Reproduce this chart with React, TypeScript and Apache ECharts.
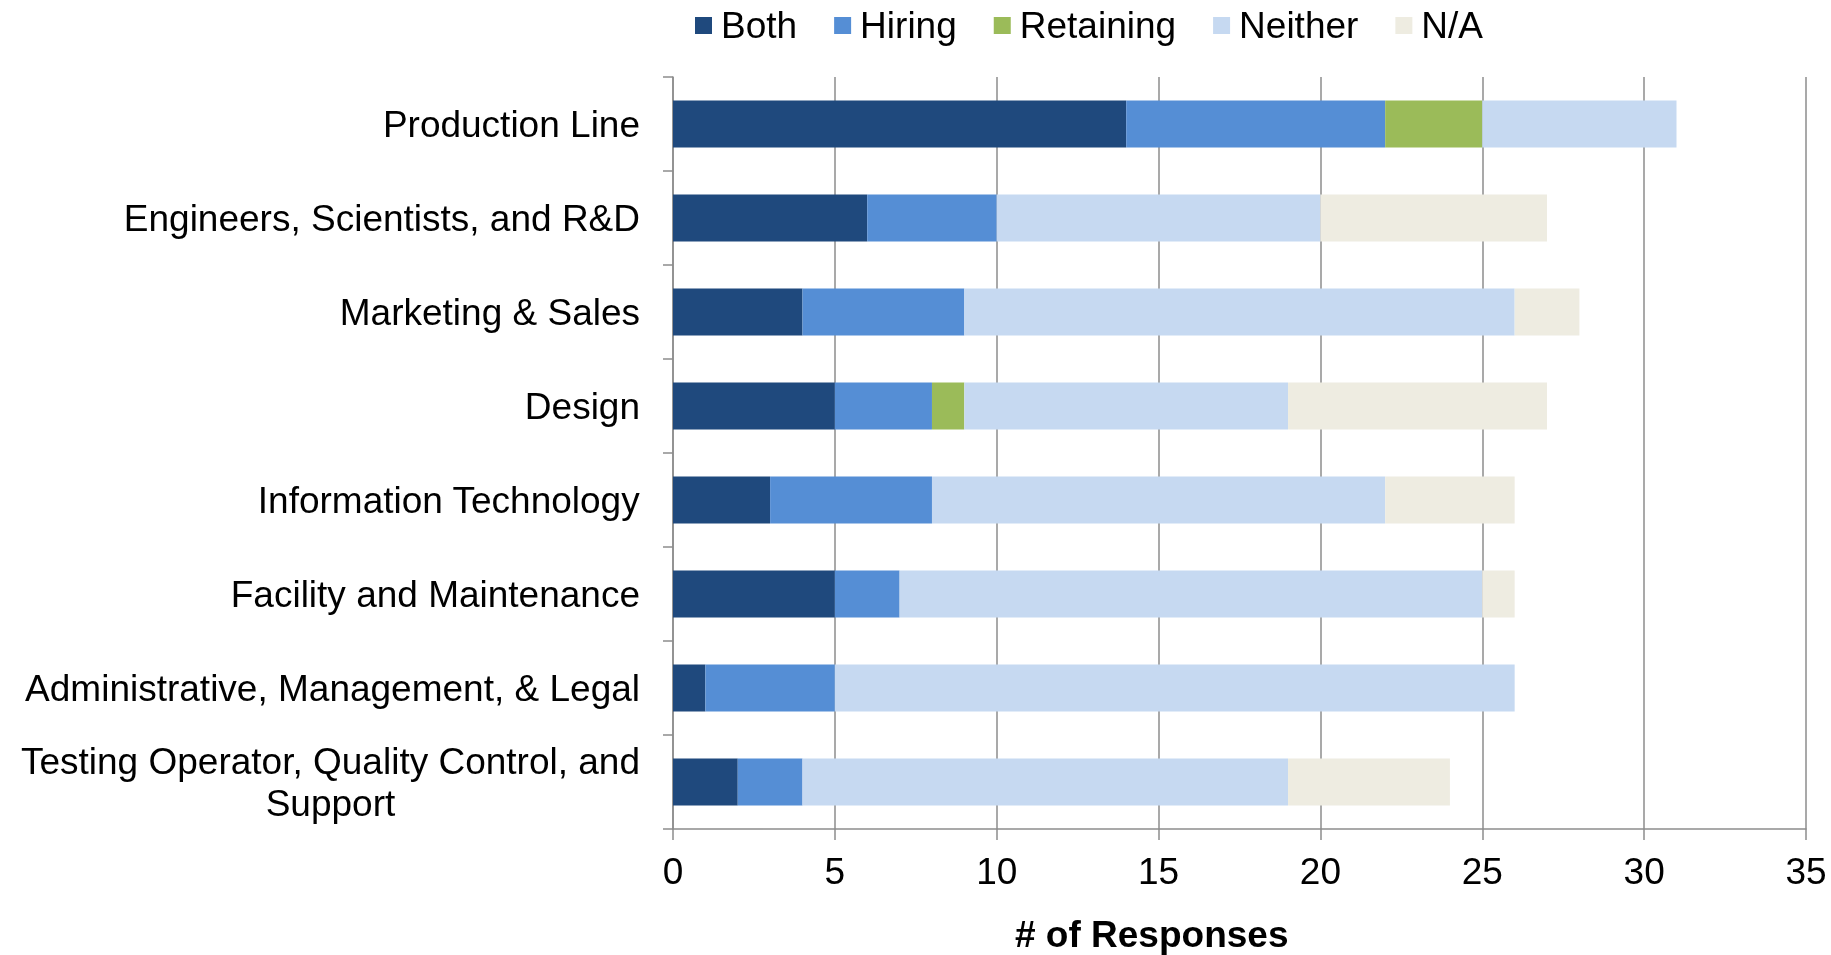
import React, { useEffect, useRef } from "react";
import * as echarts from "echarts";

const categories = [
  "Production Line",
  "Engineers, Scientists, and R&D",
  "Marketing & Sales",
  "Design",
  "Information Technology",
  "Facility and Maintenance",
  "Administrative, Management, & Legal",
  "Testing Operator, Quality Control, and\nSupport",
];

const seriesNames = ["Both", "Hiring", "Retaining", "Neither", "N/A"];
const both = [14, 6, 4, 5, 3, 5, 1, 2];
const hiring = [8, 4, 5, 3, 5, 2, 4, 2];
const retaining = [3, 0, 0, 1, 0, 0, 0, 0];
const neither = [6, 10, 17, 10, 14, 18, 21, 15];
const na = [0, 7, 2, 8, 4, 1, 0, 5];
const colors = ["#1F497D", "#558ED5", "#9BBB59", "#C6D9F1", "#EEECE1"];
const xTicks = { min: 0, max: 35, interval: 5 };
const axisTitle = "# of Responses";

const FONT = "'Liberation Sans', Arial, sans-serif";
const FS = 37;
const GRAY = "#8C8C8C";

export default function App() {
  const ref = useRef<HTMLDivElement>(null);
  useEffect(() => {
    if (!ref.current) return;
    const chart = echarts.init(ref.current, null, { renderer: "svg" });
    const values = [both, hiring, retaining, neither, na];
    chart.setOption({
      animation: false,
      textStyle: { fontFamily: FONT },
      legend: {
        left: 690,
        top: 2,
        itemWidth: 17,
        itemHeight: 17,
        itemGap: 37,
        icon: "rect",
        textStyle: { fontSize: FS, color: "#000", fontFamily: FONT, padding: [0, 0, 0, 4] },
        data: seriesNames,
      },
      grid: { left: 673, right: 25, top: 77, bottom: 126, containLabel: false },
      xAxis: {
        type: "value",
        min: xTicks.min,
        max: xTicks.max,
        interval: xTicks.interval,
        axisLine: { show: true, lineStyle: { color: GRAY, width: 1.5 } },
        axisTick: { show: true, length: 11, lineStyle: { color: GRAY, width: 1.5 } },
        splitLine: { show: true, lineStyle: { color: GRAY, width: 1.5 } },
        axisLabel: { fontSize: FS, color: "#000", margin: 24, fontFamily: FONT },
      },
      yAxis: {
        type: "category",
        inverse: true,
        data: categories,
        axisLine: { show: true, lineStyle: { color: GRAY, width: 1.5 } },
        axisTick: { show: true, length: 10, lineStyle: { color: GRAY, width: 1.5 } },
        axisLabel: {
          fontSize: FS,
          color: "#000",
          margin: 33,
          fontFamily: FONT,
          align: "right",
          formatter: (v: string) =>
            v
              .split("\n")
              .map((l) => "{c|" + l + "}")
              .join("\n"),
          rich: {
            c: { align: "center", fontSize: FS, lineHeight: 42, color: "#000", fontFamily: FONT },
          },
        },
      },
      graphic: [
        {
          type: "text",
          left: 1015,
          top: 916,
          style: {
            text: axisTitle,
            font: `bold ${FS}px ${FONT}`,
            fill: "#000",
          },
        },
      ],
      series: seriesNames.map((name, i) => ({
        name,
        type: "bar",
        stack: "total",
        barWidth: 47,
        itemStyle: { color: colors[i] },
        data: values[i],
      })),
    });
    return () => chart.dispose();
  }, []);
  return (
    <div
      ref={ref}
      style={{ position: "fixed", left: 0, top: 0, width: 1831, height: 955 }}
    />
  );
}
